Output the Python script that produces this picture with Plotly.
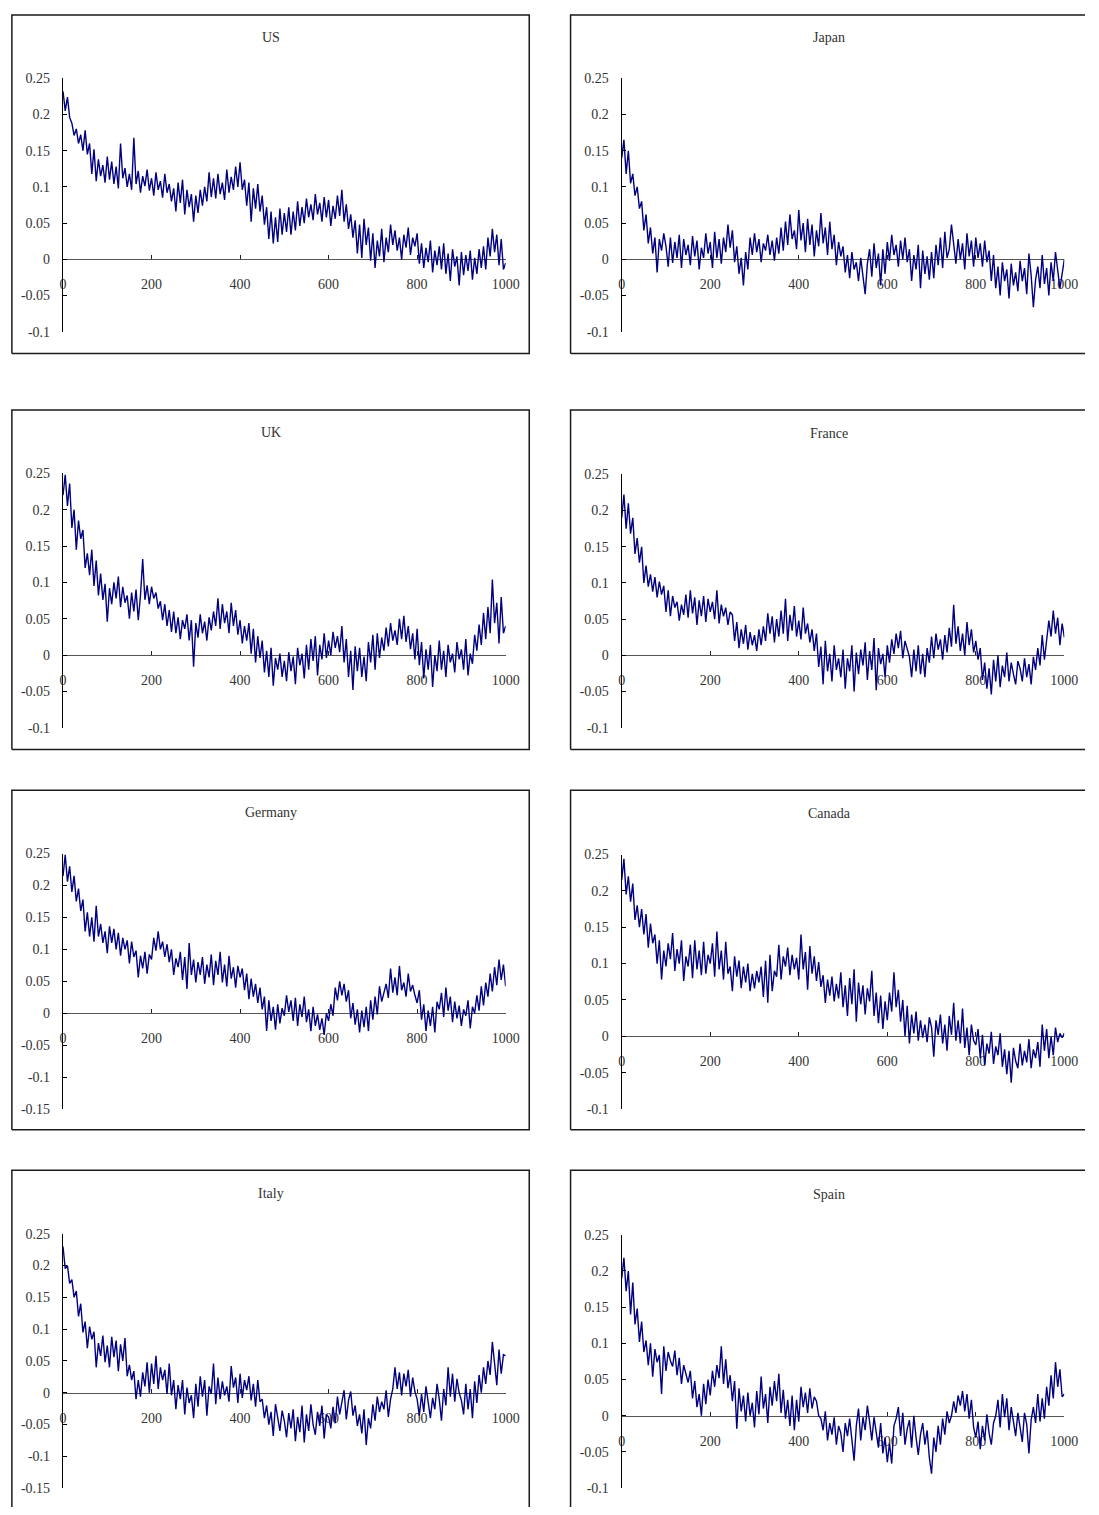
import plotly.graph_objects as go

# ---------------- data (values in thousandths, x step = 5) ----------------
x_values = list(range(0, 1001, 5))

us_milli = [
    232,205,224,196,188,171,180,160,172,150,
    178,145,160,118,152,108,138,115,130,106,
    142,110,135,104,128,98,160,112,126,100,
    118,96,168,104,122,92,115,101,124,95,
    112,88,120,96,108,85,118,92,104,80,
    98,66,106,78,110,62,96,72,90,52,
    88,64,96,74,100,80,120,86,112,84,
    118,90,106,82,124,92,114,96,128,100,
    134,96,110,74,106,52,98,70,104,66,
    88,48,72,28,66,22,58,24,70,34,
    64,38,72,34,66,40,80,46,72,50,
    84,58,76,54,90,62,78,52,86,58,
    82,46,74,56,88,60,96,52,76,42,
    62,30,54,8,48,2,56,20,44,-2,
    36,-12,26,4,42,-4,30,10,48,20,
    40,12,30,0,34,16,44,6,30,18,
    36,-6,22,-12,16,-4,26,-18,12,-8,
    18,-14,22,-20,8,-30,14,-10,4,-36,
    10,-22,6,-16,12,-28,2,-20,14,-12,
    18,-14,30,4,42,10,34,-8,28,-14,
    -5]

japan_milli = [
    140,165,118,150,105,118,88,100,70,80,
    40,62,22,44,8,30,-18,28,12,36,
    18,-10,30,-5,24,2,34,-12,28,6,
    20,-8,32,4,26,-14,16,2,36,8,
    24,-12,38,2,28,-6,30,10,48,16,
    40,-4,18,-20,2,-36,10,-14,30,6,
    36,10,28,-4,22,12,34,6,26,-2,
    30,8,44,12,52,20,62,28,40,14,
    68,26,50,10,56,20,48,4,40,18,
    64,22,44,6,52,14,34,-8,24,4,
    18,-18,6,-26,10,-14,-4,-30,2,-20,
    -48,-6,14,-24,22,-12,8,-36,14,-20,
    24,-2,34,6,20,-10,26,0,30,-4,
    14,-30,6,-14,20,-40,12,-20,4,-28,
    10,-26,20,-8,30,-12,38,2,14,48,
    16,-6,28,0,22,-14,36,4,26,-10,
    30,2,22,-10,26,-4,12,-30,6,-40,
    -10,-50,-4,-30,-14,-54,-6,-36,-18,-44,
    -2,-30,-12,-48,8,-22,-66,-28,-10,-40,
    6,-34,-12,-50,-4,-30,10,-18,-40,-20,
    0]

uk_milli = [
    220,248,205,236,175,200,145,185,160,172,
    120,140,110,145,95,130,82,112,76,98,
    46,92,70,100,78,108,66,94,72,82,
    50,86,60,90,48,82,132,76,96,70,
    94,78,86,64,74,48,70,40,62,32,
    60,30,52,22,48,36,56,20,48,-16,
    44,24,56,30,46,20,52,34,60,40,
    78,36,70,44,60,30,72,40,62,28,
    48,16,40,20,44,2,36,-10,26,-4,
    20,-24,6,-30,10,-42,-4,-20,2,-30,
    -8,-36,4,-22,-2,-40,10,-14,2,-32,
    14,-20,22,-8,26,-28,14,-6,30,-4,
    20,0,32,10,26,4,40,-10,22,-30,
    6,-48,12,-22,10,-30,-2,-36,18,-10,
    28,-20,30,-4,24,6,38,12,44,20,
    34,14,50,22,54,18,40,8,30,-6,
    36,-14,18,-32,8,-20,14,-44,0,-22,
    20,-20,6,-30,14,-10,2,-24,18,-6,
    8,-20,22,-28,2,-12,28,6,42,14,
    58,22,66,30,104,44,72,16,80,30,
    40]

france_milli = [
    190,222,175,210,168,190,140,162,128,150,
    100,124,95,112,88,108,80,102,84,96,
    60,90,54,82,66,74,48,70,56,84,
    52,90,58,80,42,76,54,82,46,78,
    60,74,50,90,44,70,54,66,42,60,
    56,20,46,10,36,16,42,8,32,14,
    28,6,36,14,40,20,58,30,54,18,
    50,26,62,30,78,20,56,34,68,26,
    48,22,66,30,44,18,36,6,30,-16,
    12,-40,20,-22,2,-36,14,-20,-4,-30,
    8,-46,-4,-22,14,-50,4,-26,8,-14,
    18,-34,6,-20,24,-48,10,-12,2,-30,
    14,-10,22,2,30,10,34,-4,20,8,
    -2,-30,8,-22,14,-26,2,-30,10,-10,
    26,-4,30,8,22,-6,28,4,38,12,
    70,16,40,6,30,0,46,14,36,4,
    20,-6,10,-34,-10,-46,-18,-54,-6,-36,
    0,-44,-14,-30,4,-36,-10,-26,-40,-8,
    -18,-36,-4,-30,-12,-40,-2,-20,10,-14,
    28,-6,20,48,26,62,30,52,14,44,
    25]

germany_milli = [
    215,248,206,230,190,215,175,195,160,178,
    128,158,120,150,112,168,120,140,110,128,
    94,136,110,132,100,126,90,118,100,114,
    78,112,88,98,56,90,70,96,62,92,
    84,118,98,128,100,112,88,108,80,100,
    60,86,72,96,52,88,38,110,60,84,
    48,80,60,88,46,76,56,92,44,82,
    60,96,48,76,42,90,54,72,40,74,
    56,70,36,62,22,54,26,46,16,40,
    6,26,-28,20,-12,10,-26,14,-16,8,
    -4,28,2,20,-12,24,-20,14,-6,26,
    -14,6,-28,10,-20,-2,-26,-8,-34,0,
    -12,14,-4,40,20,50,28,46,18,36,
    -8,16,-18,6,-30,4,-22,10,-28,20,
    -10,26,-2,42,18,30,46,24,70,32,
    56,28,74,36,48,26,62,34,44,28,
    16,36,-10,14,-28,4,-20,10,-30,18,
    6,32,-6,40,4,26,-14,18,-8,12,
    -20,6,-4,20,-24,10,0,28,4,42,
    12,48,26,62,34,72,44,84,52,76,
    42]

canada_milli = [
    215,244,195,220,185,210,160,180,150,175,
    140,168,122,155,128,140,100,132,78,118,
    96,128,106,142,90,120,100,132,76,110,
    96,126,80,132,92,118,84,130,86,112,
    100,128,82,144,92,118,78,130,86,96,
    62,110,82,104,66,96,74,100,62,86,
    66,90,74,96,54,104,46,112,62,90,
    82,126,78,110,96,122,84,112,92,108,
    78,140,92,116,64,124,86,110,76,102,
    68,84,46,78,56,82,48,72,52,88,
    40,70,28,80,44,92,20,74,44,70,
    30,66,48,90,28,60,18,56,10,48,
    22,60,34,88,40,64,20,50,0,42,
    -10,30,4,34,-6,22,-2,16,-8,26,
    12,-28,22,2,30,-10,16,-20,28,2,
    46,-6,22,-10,38,-16,12,-26,16,-6,
    -12,10,-30,2,-40,-10,-24,6,-38,-14,
    -26,4,-42,-18,-52,-20,-64,-16,-34,-44,
    -10,-40,-20,-36,-4,-44,-18,-30,-8,-42,
    16,-20,10,-30,0,-26,12,-8,4,-2,
    4]

italy_milli = [
    230,195,200,172,178,150,160,120,140,95,
    112,70,104,84,96,40,78,58,90,48,
    74,40,88,56,82,34,76,50,86,26,
    44,20,34,-10,20,-6,32,10,48,0,
    46,14,58,6,40,20,36,-2,46,-4,
    20,-26,12,-10,20,-34,8,-16,-4,-40,
    14,-22,26,-6,20,-36,10,-2,46,-18,
    24,-10,18,-4,10,-14,42,8,24,-16,
    30,-8,20,4,26,-12,14,-22,20,-14,
    -10,-40,-20,-50,-30,-68,-18,-42,-60,-28,
    -44,-70,-32,-56,-26,-76,-38,-62,-20,-78,
    -34,-60,-18,-50,-66,-30,-52,-20,-72,-34,
    -38,-56,-22,-48,-6,-34,-16,4,-42,-12,
    2,-36,-20,-52,-34,-64,-26,-82,-40,-56,
    -18,-44,-6,-30,-14,-26,4,-38,-10,6,
    40,6,32,-4,30,10,36,-6,24,2,
    -10,-36,-2,-30,10,-20,-40,-8,-26,14,
    -10,-44,6,-20,40,-6,30,-14,22,0,
    -12,-34,14,-26,6,-40,18,-16,28,0,
    40,14,50,28,80,46,12,68,30,60,
    58]

spain_milli = [
    190,218,172,200,140,184,126,148,102,130,
    88,104,70,100,54,92,74,84,30,96,
    62,88,76,68,90,56,80,44,70,56,
    46,62,24,48,12,30,0,44,16,50,
    28,62,40,70,52,96,44,78,38,56,
    20,48,-18,38,6,28,-8,32,0,18,
    -16,34,2,54,10,30,-10,40,14,48,
    20,58,4,36,-4,22,-14,28,-20,22,
    -8,40,12,32,4,38,10,26,20,0,
    -4,-20,6,-34,-10,-26,-2,-40,-14,-24,
    -50,-10,-28,-4,-38,-62,-14,10,-34,-2,
    -20,14,-8,-34,-2,-22,-44,-10,-52,-30,
    -64,-38,-66,-14,-4,12,-28,4,-40,-18,
    -6,-44,0,-30,-54,-26,-10,-40,-20,-58,
    -80,-30,-50,-14,-40,-4,-26,6,-10,0,
    20,4,28,14,34,6,30,-4,22,-16,
    -30,-8,-46,-14,-34,2,-24,-40,-10,0,
    22,-16,30,-2,24,-20,12,-8,-28,4,
    -18,-36,4,-12,-52,-6,12,-10,30,-8,
    24,-4,40,14,56,24,74,40,64,26,
    30]

titles = ["US", "Japan", "UK", "France", "Germany", "Canada", "Italy", "Spain"]
series = [us_milli, japan_milli, uk_milli, france_milli,
          germany_milli, canada_milli, italy_milli, spain_milli]
y_mins = [-0.1, -0.1, -0.1, -0.1, -0.15, -0.1, -0.15, -0.1]
y_max = 0.25
x_ticks = [0, 200, 400, 600, 800, 1000]

# ---------------- layout geometry (page pixels) ----------------
W, H = 1099, 1515
FONT = "Liberation Serif"
TXT = "#333333"
LINE = "#000080"
# (plot left, plot right, plot top, plot bottom, box x0, box y0, box x1, box y1, title y,
#  right side shown, bottom side shown)
geom = [
    (60, 510, 72, 328, 8, 8, 534, 350, 31, True, True),
    (628, 1078, 72, 328, 576, 8, 1099, 350, 31, False, True),
    (60, 510, 471, 728, 8, 407, 534, 750, 430, True, True),
    (628, 1078, 472, 728, 576, 407, 1099, 750, 431, False, True),
    (60, 510, 855, 1113, 8, 791, 534, 1134, 814, True, True),
    (628, 1078, 856, 1113, 576, 791, 1099, 1134, 815, False, True),
    (60, 510, 1239, 1496, 8, 1175, 534, 1515, 1198, True, False),
    (628, 1078, 1240, 1496, 576, 1175, 1099, 1515, 1199, False, False),
]


def fmt(v):
    s = ("%.2f" % v).rstrip("0").rstrip(".")
    return "0" if s in ("-0", "") else s


def px(xp, yp):
    return "%.5f %.5f" % (xp / W, 1 - yp / H)


fig = go.Figure()
layout = dict(
    width=W, height=H, margin=dict(l=0, r=0, t=0, b=0, pad=0),
    paper_bgcolor="white", plot_bgcolor="white", showlegend=False,
    font=dict(family=FONT, size=14, color=TXT),
    shapes=[], annotations=[],
)

for i, (name, vals, ymin) in enumerate(zip(titles, series, y_mins)):
    pl, pr, pt, pb, bx0, by0, bx1, by1, ty, right_side, bottom_side = geom[i]
    n = i + 1
    xa = "xaxis" if n == 1 else "xaxis%d" % n
    ya = "yaxis" if n == 1 else "yaxis%d" % n
    xr = "x" if n == 1 else "x%d" % n
    yr = "y" if n == 1 else "y%d" % n

    fig.add_trace(go.Scatter(
        x=x_values, y=[v / 1000.0 for v in vals], mode="lines",
        line=dict(color=LINE, width=1.4), xaxis=xr, yaxis=yr,
        hoverinfo="skip"))

    zero_px = pt + (y_max - 0.0) / (y_max - ymin) * (pb - pt)
    ticks = []
    k = 0
    while True:
        v = round(y_max - 0.05 * k, 2)
        if v < ymin - 1e-9:
            break
        ticks.append(v)
        k += 1

    layout[xa] = dict(
        domain=[pl / W, pr / W], range=[0, 1000], anchor="free",
        position=1 - zero_px / H, tickvals=x_ticks,
        ticktext=[str(t) for t in x_ticks], ticks="inside", ticklen=4,
        tickcolor="#222", showline=True, linecolor="#555", linewidth=1.2,
        showgrid=False, zeroline=False, layer="below traces",
        ticklabelstandoff=12, tickfont=dict(family=FONT, size=14, color=TXT),
        fixedrange=True)
    layout[ya] = dict(
        domain=[1 - pb / H, 1 - pt / H], range=[ymin, y_max], anchor=xr,
        tickvals=ticks, ticktext=[fmt(t) for t in ticks], ticks="inside",
        ticklen=4, tickcolor="#000", showline=True, linecolor="#000",
        linewidth=1.2, showgrid=False, zeroline=False,
        ticklabelstandoff=9, tickfont=dict(family=FONT, size=14, color=TXT),
        fixedrange=True)

    # panel frame (sides beyond the picture edge are not drawn)
    path = "M " + px(bx0, by1) + " L " + px(bx0, by0) + " L " + px(bx1, by0)
    if right_side:
        path += " L " + px(bx1, by1)
        if bottom_side:
            path += " L " + px(bx0, by1)
    elif bottom_side:
        path += " M " + px(bx0, by1) + " L " + px(bx1, by1)
    layout["shapes"].append(dict(
        type="path", xref="paper", yref="paper", path=path,
        line=dict(color="#1a1a1a", width=1.5), layer="below"))
    title_x = (bx0 + bx1) / 2 if right_side else (bx0 + 1102) / 2
    layout["annotations"].append(dict(
        text=name, xref="paper", yref="paper", x=title_x / W,
        y=1 - ty / H, xanchor="center", yanchor="middle", showarrow=False,
        font=dict(family=FONT, size=14, color=TXT)))

fig.update_layout(**layout)
fig.write_html(
    "out.html",
    config={"displayModeBar": False},
    post_script="document.body.style.margin='0';document.body.style.padding='0';"
                "document.body.style.overflow='hidden';"
                "document.documentElement.style.overflow='hidden';")
